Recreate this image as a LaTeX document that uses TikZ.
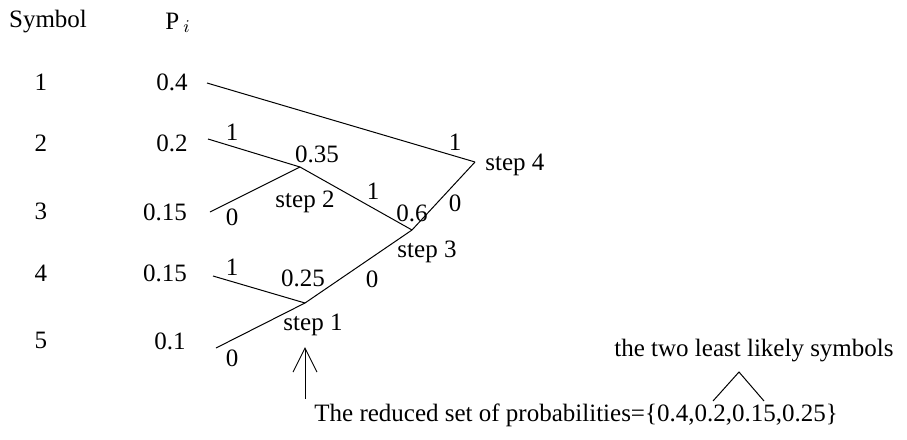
\documentclass[tikz,border=0pt]{standalone}
\usepackage{fontspec}
\setmainfont{Liberation Serif}
\usetikzlibrary{arrows.meta}

\begin{document}
\begin{tikzpicture}[
    x=0.5pt, y=-0.5pt,
    font=\fontsize{12.5}{14}\selectfont,
    branch/.style={line width=0.5pt},
    lbl/.style={inner sep=1pt},
]
\useasboundingbox (0,0) rectangle (907,440);

% column heads
\node[lbl] (symhead) at (48,22) {Symbol};
\node[lbl, anchor=base west] (phead) at (163,29) {P\,$_i$};

% symbols and their probabilities
\foreach \n/\y in {1/82,2/143,3/211,4/273,5/340}
    \node[lbl] (sym\n) at (41,\y) {\n};
\foreach \n/\p/\x/\y in {1/0.4/172/82, 2/0.2/172/143, 3/0.15/165/212,
                         4/0.15/165/273, 5/0.1/170/341}
    \node[lbl] (p\n) at (\x,\y) {\p};

% leaf ends and merge points
\coordinate (l1) at (207,83);
\coordinate (l2) at (208,139);
\coordinate (l3) at (210,212);
\coordinate (l4) at (213,276);
\coordinate (l5) at (216,348);
\coordinate (s1) at (305,303);
\coordinate (s2) at (300,167);
\coordinate (s3) at (412,230);
\coordinate (s4) at (475,162);

\draw[branch] (l1) -- (s4);
\draw[branch] (l2) -- (s2);
\draw[branch] (l3) -- (s2);
\draw[branch] (s2) -- (s3);
\draw[branch] (l4) -- (s1);
\draw[branch] (l5) -- (s1);
\draw[branch] (s1) -- (s3);
\draw[branch] (s3) -- (s4);

% bits and sums
\node[lbl] (b2) at (232,132) {1};
\node[lbl] (b3) at (232,217) {0};
\node[lbl] (b4) at (232,267) {1};
\node[lbl] (b5) at (232,358) {0};
\node[lbl] (b23) at (373,191) {1};
\node[lbl] (b45) at (372,279) {0};
\node[lbl] (b1) at (455,142) {1};
\node[lbl] (b2345) at (455,203) {0};
\node[lbl] (sum1) at (303,278) {0.25};
\node[lbl] (sum2) at (317,154) {0.35};
\node[lbl] (sum3) at (412,213) {0.6};
\node[lbl] (step1) at (313,325) {step 1};
\node[lbl] (step2) at (305,202) {step 2};
\node[lbl] (step3) at (427,252) {step 3};
\node[lbl, anchor=west] (step4) at (483,165) {step 4};

% notes
\coordinate (arrtail) at (305,399);
\coordinate (arrtip) at (305,347);
\draw[branch, -{Straight Barb[length=12pt,width=12pt]}] (arrtail) -- (arrtip);
\node[lbl, anchor=west] (reduced) at (312,415) {The reduced set of probabilities=\{0.4,0.2,0.15,0.25\}};
\node[lbl] (least) at (754,351) {the two least likely symbols};
\coordinate (c1) at (713,401);
\coordinate (c2) at (739,372);
\coordinate (c3) at (764,401);
\draw[branch] (c1) -- (c2) -- (c3);
\end{tikzpicture}
\end{document}
